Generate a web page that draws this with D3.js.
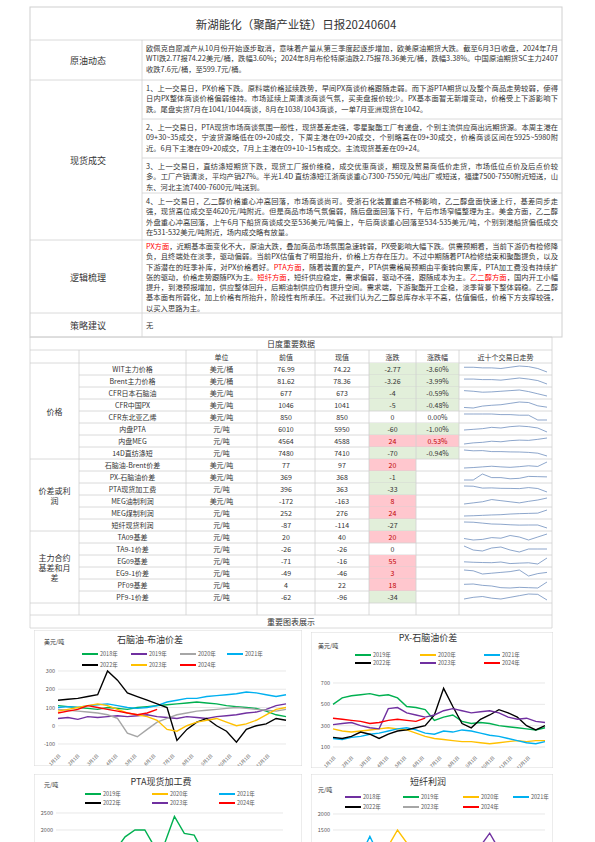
<!DOCTYPE html>
<html><head><meta charset="utf-8">
<script src="https://cdn.jsdelivr.net/npm/d3@7/dist/d3.min.js"></script>
<style>
body{margin:0;width:595px;height:842px;overflow:hidden;background:#fff;font-family:"Noto Sans CJK SC","Noto Sans",sans-serif;color:#333}
.p{position:absolute;font-size:7.3px;line-height:10.3px;color:#333;text-align:justify;word-break:break-all}
.r{color:#ff0000}
</style></head><body>
<svg id="s" width="595" height="842" style="position:absolute;left:0;top:0"></svg>
<div id="h"></div>
<script>
// ---------- data ----------
const title = "新湖能化（聚酯产业链）日报20240604";
const rowLabels = ["原油动态","现货成交","逻辑梳理","策略建议"];
const crudeText = "欧佩克自愿减产从10月份开始逐步取消，意味着产量从第三季度起逐步增加，欧美原油期货大跌。截至6月3日收盘，2024年7月WTI跌2.77报74.22美元/桶，跌幅3.60%；2024年8月布伦特原油跌2.75报78.36美元/桶，跌幅3.38%。中国原油期货SC主力2407收跌7.6元/桶，至599.7元/桶。";
const spotTexts = [
"1、上一交易日，PX价格下跌。原料端价格延续跌势，早间PX商谈价格跟随走弱。而下游PTA期货以及整个商品走势较弱，使得日内PX整体商谈价格偏弱维持。市场延续上周清淡商谈气氛，买卖盘报价较少。PX基本面暂无新增变动，价格受上下游影响下跌。尾盘实货7月在1041/1044商谈，8月在1038/1043商谈，一单7月亚洲现货在1042。",
"2、上一交易日，PTA现货市场商谈氛围一般性，现货基差走强，零星聚酯工厂有递盘，个别主流供应商出远期货源。本周主港在09+30~35成交，宁波货源略低在09+20成交，下周主港在09+20成交，个别略高在09+30成交，价格商谈区间在5925~5980附近。6月下主港在09+20成交，7月上主港在09+10~15有成交。主流现货基差在09+24。",
"3、上一交易日，直纺涤短期货下跌，现货工厂报价维稳，成交优惠商谈，期现及贸易商低价走货，市场低位点价及后点价较多。工厂产销清淡，平均产销27%。半光1.4D 直纺涤短江浙商谈重心7300-7550元/吨出厂或短送，福建7500-7550附近短送，山东、河北主流7400-7600元/吨送到。",
"4、上一交易日，乙二醇价格重心冲高回落，市场商谈尚可。受浙石化装置重启不畅影响，乙二醇盘面快速上行，基差同步走强，现货高位成交至4620元/吨附近。但是商品市场气氛偏弱，随后盘面回落下行，午后市场窄幅整理为主。美金方面，乙二醇外盘重心冲高回落，上午6月下船货商谈成交至536美元/吨偏上，午后商谈重心回落至534-535美元/吨，个别到港船货偏低成交在531-532美元/吨附近，场内成交略有放量。"];
const logicText = "<span class='r'>PX方面</span>，近期基本面变化不大，原油大跌，叠加商品市场氛围急速转弱，PX受影响大幅下跌。供需预期看，当前下游仍有检修降负，且终端处在淡季，驱动偏弱。当前PX估值有了明显抬升，价格上方存在压力。不过中期随着PTA检修结束和聚酯提负，以及下游潜在的旺季补库，对PX价格看好。<span class='r'>PTA方面</span>，随着装置的复产，PTA供需格局预期由平衡转向累库，PTA加工费没有持续扩张的驱动，价格走势跟随PX为主。<span class='r'>短纤方面</span>，短纤供应稳定，需求偏弱，驱动不强，跟随成本为主。<span class='r'>乙二醇方面</span>，国内开工小幅提升，到港预报增加，供应整体回升，后期油制供应仍有提升空间。需求端，下游聚酯开工企稳，淡季背景下整体弱稳。乙二醇基本面有所弱化，加上价格有所抬升，阶段性有所承压。不过我们认为乙二醇总库存水平不高，估值偏低，价格下方支撑较强，以买入思路为主。";
const strategyText = "无";

const tableHeaders = ["单位","前值","现值","涨跌","涨跌幅","近十个交易日走势"];
const groups = [["价格",8],["价差或利润",6],["主力合约基差和月差",6]];
const names = ["WIT主力价格","Brent主力价格","CFR日本石脑油","CFR中国PX","CFR东北亚乙烯","内盘PTA","内盘MEG","14D直纺涤短","石脑油-Brent价差","PX-石脑油价差","PTA现货加工费","MEG油制利润","MEG煤制利润","短纤现货利润","TA09基差","TA9-1价差","EG09基差","EG9-1价差","PF09基差","PF9-1价差"];
const units = ["美元/桶","美元/桶","美元/吨","美元/吨","美元/吨","元/吨","元/吨","元/吨","美元/吨","美元/吨","元/吨","美元/吨","元/吨","元/吨","元/吨","元/吨","元/吨","元/吨","元/吨","元/吨"];
const prevVals = ["76.99","81.62","677","1046","850","6010","4564","7480","77","369","396","-172","252","-87","20","-26","-71","-49","4","-62"];
const currVals = ["74.22","78.36","673","1041","850","5950","4588","7410","97","368","363","-163","276","-114","40","-26","-16","-46","22","-96"];
const changes = [-2.77,-3.26,-4,-5,0,-60,24,-70,20,-1,-33,8,24,-27,20,0,55,3,18,-34];
const pcts = ["-3.60%","-3.99%","-0.59%","-0.48%","0.00%","-1.00%","0.53%","-0.94%","","","","","","","","","","","",""];
const sparks = [
[78,78,77.5,77.5,77,78,79,78.5,77,74.2],
[83,83,82.5,82.5,82,83,84,83,81.6,78.4],
[690,688,685,686,688,690,692,687,680,673],
[1040,1038,1045,1048,1050,1055,1060,1058,1046,1041],
[870,870,870,870,868,868,866,866,850,850],
[5980,5990,6000,6020,6010,6030,6040,6030,6010,5950],
[4480,4500,4510,4530,4520,4540,4550,4545,4564,4588],
[7560,7540,7545,7520,7520,7512,7510,7500,7480,7410],
[70,72,75,78,75,73,76,80,77,97],
[355,355,380,365,365,360,362,370,369,368],
[420,418,400,402,398,397,395,405,396,363],
[-190,-185,-180,-170,-175,-180,-185,-178,-172,-163],
[230,232,235,238,240,245,248,250,252,276],
[-60,-62,-70,-78,-80,-85,-88,-87,-87,-114],
[25,20,22,28,26,35,30,20,30,40],
[-20,-28,-30,-24,-22,-28,-32,-26,-26,-26],
[-60,-65,-68,-70,-62,-80,-75,-71,-85,-16],
[-40,-42,-50,-48,-46,-44,-40,-55,-49,-46],
[15,16,12,10,5,4,6,5,4,22],
[-90,-80,-75,-85,-90,-80,-70,-60,-62,-96]];

const monthTicks = ["1月1日","2月1日","3月1日","4月1日","5月1日","6月1日","7月1日","8月1日","9月1日","10月1日","11月1日","12月1日"];
const c1Years = ["2018年","2019年","2020年","2021年","2022年","2023年","2024年"];
const c1Vals = [
[110,105,100,95,90,100,95,90,100,105,110,115,120,125,130,125,120,110,105,100,95,80,60,50],
[40,45,35,50,45,50,55,50,55,60,50,45,40,50,45,40,50,55,60,70,75,90,110,120],
[90,85,80,75,70,60,40,-40,-60,-20,20,40,60,70,80,85,90,95,100,95,90,85,80,90],
[100,105,100,110,115,120,110,100,95,100,110,130,140,150,150,160,165,170,175,185,180,170,160,170],
[140,145,150,160,170,300,250,180,160,140,120,100,-80,-20,20,40,0,-30,-90,-20,0,10,40,30],
[80,90,100,110,120,110,90,70,60,50,30,-20,-30,0,20,30,40,20,0,10,30,60,90,100],
[70,80,90,110,100,90,80,70,60,70,90]];
const c2Years = ["2019年","2020年","2021年","2022年","2023年","2024年"];
const c2Vals = [
[500,560,580,590,600,580,590,560,480,470,450,350,380,400,340,320,330,320,300,290,280,270,260,280],
[270,250,240,250,260,270,280,270,260,230,200,180,170,160,150,150,140,130,140,150,160,150,160,160],
[180,170,190,200,220,230,250,270,280,260,230,220,250,240,260,250,230,210,200,180,160,140,130,150],
[190,180,200,240,220,180,220,250,260,280,300,400,650,480,320,280,360,400,450,420,380,300,260,300],
[310,320,330,300,280,270,460,470,420,400,380,400,440,460,440,420,430,440,420,380,360,370,340,330],
[370,360,350,340,320,330,350,360,350,340,370]];
const c3Years = ["2019年","2020年","2021年","2022年","2023年","2024年"];
const c3Vals = [
[800,900,1000,1100,1200,1300,1400,1800,2000,2000,1500,1600,2400,1900,1850,1300,900,800,700,600,650,700,600,650],
[700,800,900,1000,900,800,700,600,500,500,400,500,600,500,400,450,400,350,400,450,500,400,300,350],
[400,350,500,600,500,450,400,500,600,700,600,500,400,600,700,800,900,700,600,500,400,300,350,400],
[600,500,400,300,200,500,700,900,1100,800,600,400,300,200,300,400,500,600,700,500,400,300,350,400],
[500,600,700,600,500,400,300,250,200,300,400,500,600,700,600,500,400,300,250,300,350,400,450,400],
[450,400,350,300,350,400,450,500,450,400,380]];
const c4Years = ["2018年","2019年","2020年","2021年","2022年","2023年","2024年"];
const c4Vals = [
[400,500,600,700,800,900,800,700,800,900,1000,900,800,700,800,900,1000,1400,900,700,600,500,400,300],
[300,250,200,300,400,350,300,250,200,150,200,300,250,200,150,100,150,200,250,200,150,100,150,200],
[200,300,400,500,600,800,1000,1500,1100,700,500,400,300,200,150,100,200,300,250,200,150,100,150,200],
[300,400,500,700,1300,700,500,400,300,200,150,200,300,250,200,150,100,200,300,400,300,200,150,100],
[100,50,0,-100,-200,-150,-100,-50,0,50,100,50,0,-100,-50,0,50,100,50,0,-50,-100,-50,0],
[0,50,100,50,0,-50,-100,-50,0,50,100,150,100,50,0,-50,0,50,100,50,0,-50,0,50],
[-50,0,50,100,50,0,-50,-100,-50,-80,-100]];

const colors = {"2018年":"#00b050","2019年":"#7030a0","2020年":"#a6a6a6","2021年":"#00b0f0","2022年":"#000000","2023年":"#ffc000","2024年":"#ff0000"};
const colors2 = {"2019年":"#00b050","2020年":"#ffc000","2021年":"#00b0f0","2022年":"#000000","2023年":"#7030a0","2024年":"#ff0000"};
const colors4 = {"2018年":"#7030a0","2019年":"#00b050","2020年":"#ffc000","2021年":"#00b0f0","2022年":"#000000","2023年":"#a6a6a6","2024年":"#ff0000"};

// ---------- layout ----------
const svg = d3.select("#s"), H = d3.select("#h");
const L=30, D=142, R=562, line="#d0d0d0";
function hline(x1,x2,y){svg.append("line").attr("x1",x1).attr("x2",x2).attr("y1",y).attr("y2",y).attr("stroke",line).attr("stroke-width",0.8);}
function vline(x,y1,y2){svg.append("line").attr("x1",x).attr("x2",x).attr("y1",y1).attr("y2",y2).attr("stroke",line).attr("stroke-width",0.8);}
function txt(x,y,t,o={}){return svg.append("text").attr("x",x).attr("y",y).attr("text-anchor",o.a||"middle").attr("dominant-baseline","central").attr("font-size",o.s||7).attr("fill",o.c||"#333").text(t);}
function para(x,y,w,html){H.append("div").attr("class","p").style("left",x+"px").style("top",y+"px").style("width",w+"px").html(html);}

const topY=7;
svg.append("rect").attr("x",L).attr("y",topY).attr("width",R-L).attr("height",337-topY).attr("fill","none").attr("stroke",line);
txt((L+R)/2,24,title,{s:11.5});
[40,80,240,313].forEach(y=>hline(L,R,y));
[119,158,193].forEach(y=>hline(D,R,y));
vline(D,40,337);
txt(88,60,rowLabels[0],{s:9}); txt(88,160,rowLabels[1],{s:9}); txt(88,277,rowLabels[2],{s:9}); txt(88,325,rowLabels[3],{s:9});
para(D+4,43,R-D-8,crudeText);
[80,119,158,193].forEach((y,i)=>para(D+4,y+3,R-D-8,spotTexts[i]));
para(D+4,241,R-D-8,logicText);
para(D+4,320,R-D-8,strategyText);

// ---------- data table ----------
const TR=552, cols=[30,79,186,257,315,369,416,459,TR];
const th=350, rh=12, t0=363;
hline(L,TR,337); hline(L,TR,th);
txt((L+TR)/2,343.5,"日度重要数据",{s:8});
vline(L,337,628); vline(TR,337,628);
tableHeaders.forEach((h,i)=>txt((cols[i+2]+cols[i+3])/2,th+6.5,h,{s:7}));
hline(L,TR,t0);
const yRow = i=>t0+i*rh;
names.forEach((n,i)=>{
  const y=yRow(i), c=changes[i];
  if(c!==0){
    const fill=c>0?"#ffc7ce":"#e2efda";
    svg.append("rect").attr("x",cols[5]).attr("y",y).attr("width",cols[6]-cols[5]).attr("height",rh).attr("fill",fill);
    if(pcts[i]) svg.append("rect").attr("x",cols[6]).attr("y",y).attr("width",cols[7]-cols[6]).attr("height",rh).attr("fill",fill);
  }
  const tc=c>0?"#c00000":"#333";
  txt((cols[1]+cols[2])/2,y+6,n);
  txt((cols[2]+cols[3])/2,y+6,units[i]);
  txt((cols[3]+cols[4])/2,y+6,prevVals[i]);
  txt((cols[4]+cols[5])/2,y+6,currVals[i]);
  txt((cols[5]+cols[6])/2,y+6,String(changes[i]),{c:tc});
  txt((cols[6]+cols[7])/2,y+6,pcts[i],{c:tc});
  hline(cols[1],TR,y+rh);
  const sx=d3.scaleLinear().domain([0,9]).range([cols[7]+5,TR-5]);
  const ex=d3.extent(sparks[i]);
  const sy=d3.scaleLinear().domain(ex).range([y+rh-3,y+3]);
  svg.append("path").attr("d",d3.line().x((d,j)=>sx(j)).y(d=>sy(d))(sparks[i])).attr("fill","none").attr("stroke","#5b7fb4").attr("stroke-width",0.7);
});
cols.slice(1,8).forEach(x=>vline(x,th,yRow(20)));
let gi=0;
groups.forEach(([g,n])=>{
  const y0=yRow(gi), y1=yRow(gi+n);
  hline(L,cols[1],y1);
  const lines = g.length>4 ? g.match(/.{1,4}/g) : [g];
  lines.forEach((s,k)=>txt((L+cols[1])/2,(y0+y1)/2+(k-(lines.length-1)/2)*10,s,{s:8}));
  gi+=n;
});
hline(L,TR,yRow(20)+rh); hline(L,TR,628);
cols.slice(1,8).forEach(x=>vline(x,yRow(20),yRow(20)+rh));
txt((L+TR)/2,621.5,"重要图表展示",{s:8});

// ---------- charts ----------
let clipN=0;
function chart(o){
  const clip="clip"+(clipN++);
  svg.append("clipPath").attr("id",clip).append("rect").attr("x",o.bx).attr("y",o.by).attr("width",o.bw).attr("height",o.bh);
  const g=svg.append("g").attr("clip-path",`url(#${clip})`);
  g.append("rect").attr("x",o.bx).attr("y",o.by).attr("width",o.bw).attr("height",o.bh).attr("fill","#fff").attr("stroke","#d9d9d9");
  g.append("text").attr("x",o.tx).attr("y",o.ty).attr("text-anchor","middle").attr("font-size",9).attr("fill","#333").text(o.title);
  g.append("text").attr("x",o.ux).attr("y",o.uy).attr("font-size",6).attr("fill","#333").text(o.unit);
  const x=d3.scaleLinear().domain([0,23]).range([o.x0,o.x1]);
  const y=d3.scaleLinear().domain(o.dom).range(o.rng);
  o.ticks.forEach(t=>{
    g.append("line").attr("x1",o.x0).attr("x2",o.x1).attr("y1",y(t)).attr("y2",y(t)).attr("stroke","#d9d9d9").attr("stroke-width",0.6);
    if(y(t)<836) g.append("text").attr("x",o.x0-3).attr("y",y(t)).attr("text-anchor","end").attr("dominant-baseline","central").attr("font-size",5.5).attr("fill","#595959").text(t);
  });
  if(o.xt){
    const xm=d3.scaleLinear().domain([0,12]).range([o.x0,o.x1]);
    monthTicks.forEach((m,i)=>{
      g.append("text").attr("transform",`translate(${xm(i)+3},${o.xt}) rotate(-45)`).attr("text-anchor","end").attr("font-size",4.5).attr("fill","#595959").text(m);
    });
  }
  o.years.forEach((yr,i)=>{
    g.append("path").attr("d",d3.line().x((d,j)=>x(j)).y(d=>y(d))(o.vals[i])).attr("fill","none").attr("stroke",o.col[yr]).attr("stroke-width",1.4);
  });
  o.years.forEach((yr,i)=>{
    const [lx,ly]=o.leg[i];
    g.append("line").attr("x1",lx).attr("x2",lx+16).attr("y1",ly).attr("y2",ly).attr("stroke",o.col[yr]).attr("stroke-width",2);
    g.append("text").attr("x",lx+18).attr("y",ly).attr("dominant-baseline","central").attr("font-size",5.5).attr("fill","#595959").text(yr);
  });
}
chart({bx:34,by:630,bw:268,bh:136,title:"石脑油-布油价差",tx:150,ty:643,unit:"美元/吨",ux:44,uy:644,
  x0:58,x1:286,dom:[-100,300],rng:[744,671],ticks:[-100,0,100,200,300],xt:756,years:c1Years,vals:c1Vals,col:colors,
  leg:[[82,654],[131,654],[180,654],[227,654],[82,665],[131,665],[180,665]]});
chart({bx:311,by:632,bw:242,bh:136,title:"PX-石脑油价差",tx:428,ty:641,unit:"美元/吨",ux:318,uy:648,
  x0:333,x1:545,dom:[100,700],rng:[747,683],ticks:[100,300,500,700],xt:758,years:c2Years,vals:c2Vals,col:colors2,
  leg:[[355,655],[420,655],[484,655],[355,663],[420,663],[484,663]]});
chart({bx:34,by:774,bw:268,bh:80,title:"PTA现货加工费",tx:161,ty:785,unit:"元/吨",ux:44,uy:787,
  x0:56,x1:283,dom:[0,2500],rng:[898,813],ticks:[0,500,1000,1500,2000,2500],years:c3Years,vals:c3Vals,col:colors2,
  leg:[[85,794],[152,794],[219,794],[85,803],[152,803],[219,803]]});
chart({bx:311,by:774,bw:242,bh:80,title:"短纤利润",tx:428,ty:785,unit:"元/吨",ux:318,uy:792,
  x0:333,x1:545,dom:[0,2000],rng:[878,814],ticks:[0,500,1000,1500,2000],years:c4Years,vals:c4Vals,col:colors4,
  leg:[[345,797],[403,797],[463,797],[513,797],[345,807],[403,807],[463,807]]});
</script></body></html>
